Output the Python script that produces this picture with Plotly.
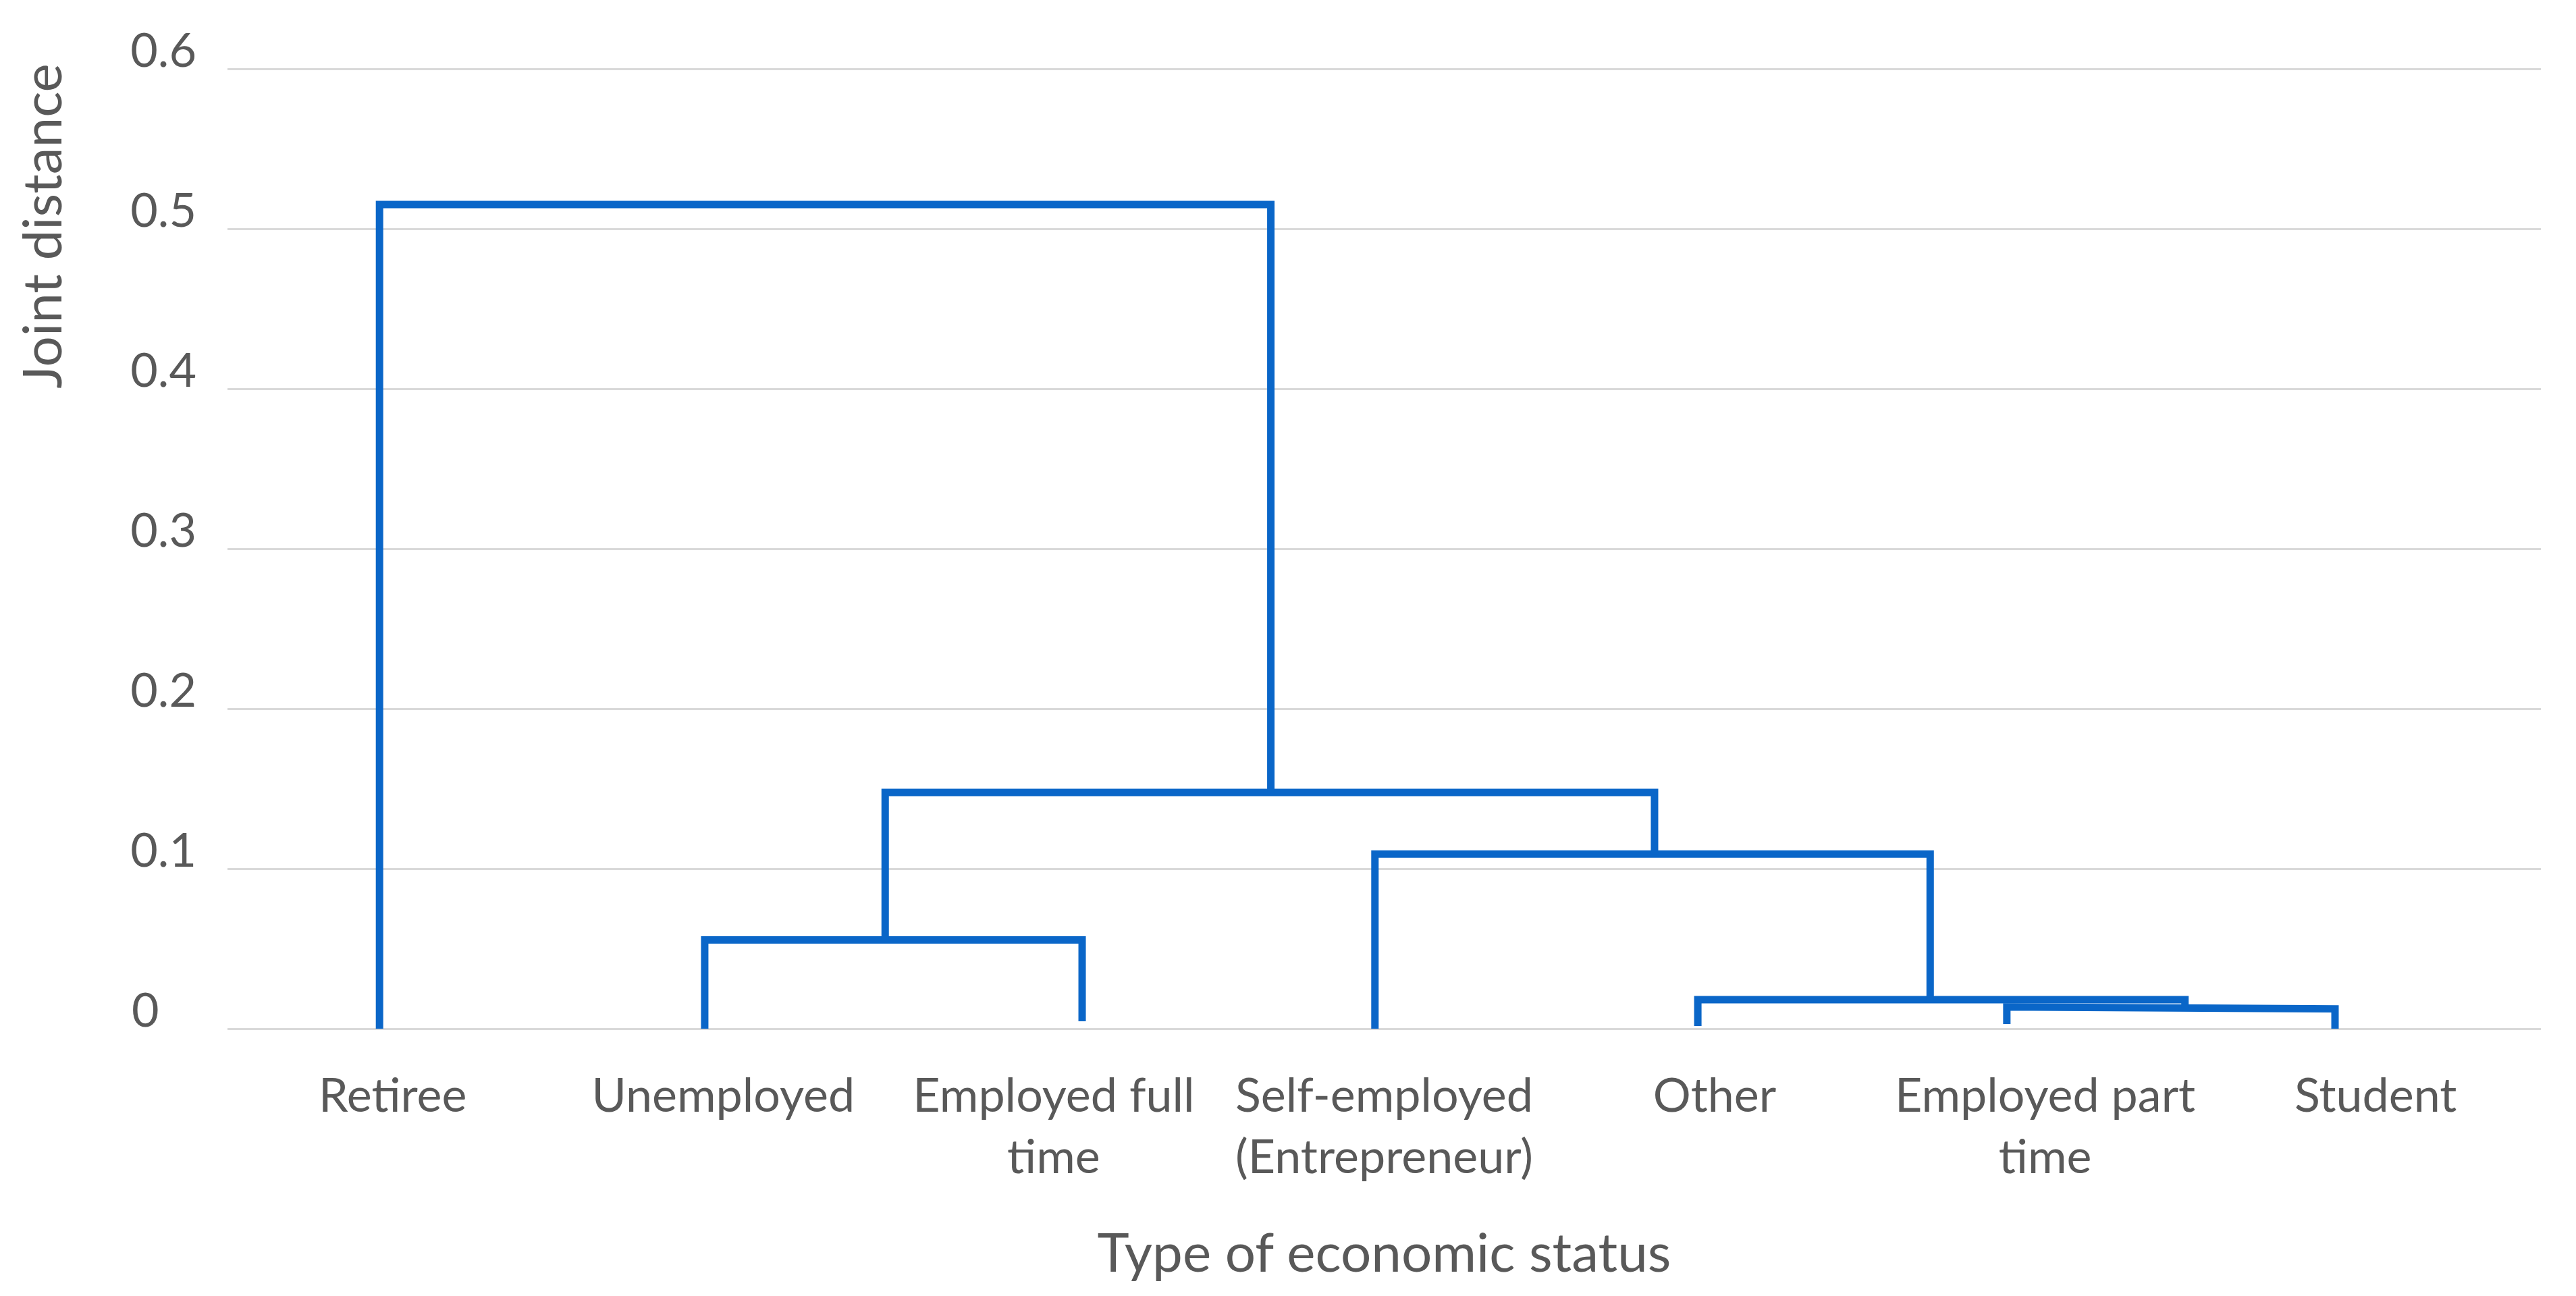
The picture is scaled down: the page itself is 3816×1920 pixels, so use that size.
import plotly.graph_objects as go

# Leaf categories (in display order) and tick labels
categories = ["Retiree", "Unemployed", "Employed full time", "Self-employed (Entrepreneur)",
              "Other", "Employed part time", "Student"]
tick_labels = ["Retiree", "Unemployed", "Employed full<br>time", "Self-employed<br>(Entrepreneur)",
               "Other", "Employed part<br>time", "Student"]
tick_positions = [0.5, 1.5, 2.5, 3.5, 4.5, 5.5, 6.5]

# Dendrogram merges:
# each merge: left x, left bottom, left top, right x, right top, right bottom
merge_left_x      = [1.444, 5.384, 4.449, 3.472, 1.990, 0.460]
merge_left_bottom = [0.000, 0.003, 0.0017, 0.000, 0.0555, 0.000]
merge_left_top    = [0.0555, 0.0136, 0.0181, 0.1092, 0.1477, 0.5154]
merge_right_x     = [2.586, 6.377, 5.923, 5.152, 4.318, 3.157]
merge_right_top   = [0.0555, 0.0124, 0.0181, 0.1092, 0.1477, 0.5154]
merge_right_bottom= [0.0046, 0.000, 0.0130, 0.0181, 0.1092, 0.1477]

y_ticks = [0, 0.1, 0.2, 0.3, 0.4, 0.5, 0.6]
y_tick_text = ["0\u2008\u2007", "0.1", "0.2", "0.3", "0.4", "0.5", "0.6"]

LINE = "#0A66C8"
TXT = "#595959"
FONT = "Lato, 'Open Sans', sans-serif"

fig = go.Figure()
xs, ys = [], []
for i in range(len(merge_left_x)):
    xs += [merge_left_x[i], merge_left_x[i], merge_right_x[i], merge_right_x[i], None]
    ys += [merge_left_bottom[i], merge_left_top[i], merge_right_top[i], merge_right_bottom[i], None]

fig.add_trace(go.Scatter(x=xs, y=ys, mode="lines",
                         line=dict(color=LINE, width=11), showlegend=False,
                         hoverinfo="skip"))

fig.update_layout(
    width=3816, height=1920,
    margin=dict(l=329, r=60, t=91, b=404),
    paper_bgcolor="white", plot_bgcolor="white",
    font=dict(family=FONT, color=TXT, size=70),
    annotations=[dict(
        text="Joint distance", textangle=-90, xref="paper", yref="paper",
        x=-0.0, xshift=-277, xanchor="center",
        y=0.85, yshift=-22, yanchor="middle", showarrow=False,
        font=dict(size=80, color=TXT),
    )],
)
fig.update_xaxes(
    range=[0, 7], tickmode="array", tickvals=tick_positions, ticktext=tick_labels,
    showgrid=False, zeroline=False, showline=False, ticks="",
    tickfont=dict(size=70, color=TXT), ticklabelstandoff=52,
    title=dict(text="Type of economic status", font=dict(size=80, color=TXT), standoff=75),
)
fig.update_yaxes(
    range=[0, 0.6015], tickmode="array", tickvals=y_ticks, ticktext=y_tick_text,
    showgrid=True, gridcolor="#D9D9D9", gridwidth=3,
    zeroline=True, zerolinecolor="#D9D9D9", zerolinewidth=3,
    showline=False, ticks="",
    tickfont=dict(size=70, color=TXT), ticklabelstandoff=45, ticklabelshift=-28,
)

fig.write_html("out.html")
